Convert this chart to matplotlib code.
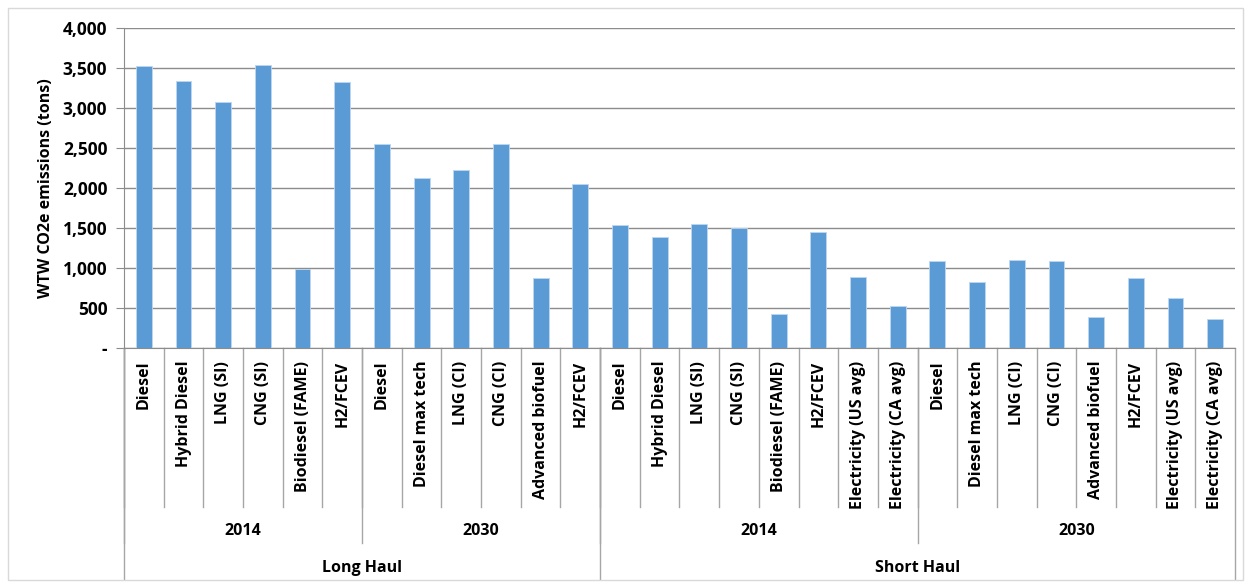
import matplotlib
matplotlib.use("Agg")
import matplotlib.pyplot as plt
import matplotlib.transforms as mtransforms
from matplotlib.patches import Rectangle
from matplotlib.ticker import FuncFormatter

plt.rcParams['font.family'] = ['Open Sans', 'DejaVu Sans']
plt.rcParams['font.weight'] = 'bold'

# data, grouped haul -> year -> fuel
hauls = ["Long Haul", "Short Haul"]
years = ["2014", "2030"]

lh_2014_labels = ["Diesel", "Hybrid Diesel", "LNG (SI)", "CNG (SI)", "Biodiesel (FAME)", "H2/FCEV"]
lh_2014_values = [3525, 3340, 3075, 3533, 988, 3325]
lh_2030_labels = ["Diesel", "Diesel max tech", "LNG (CI)", "CNG (CI)", "Advanced biofuel", "H2/FCEV"]
lh_2030_values = [2546, 2121, 2221, 2550, 871, 2054]
sh_2014_labels = ["Diesel", "Hybrid Diesel", "LNG (SI)", "CNG (SI)", "Biodiesel (FAME)", "H2/FCEV",
                  "Electricity (US avg)", "Electricity (CA avg)"]
sh_2014_values = [1541, 1384, 1546, 1500, 429, 1450, 891, 525]
sh_2030_labels = ["Diesel", "Diesel max tech", "LNG (CI)", "CNG (CI)", "Advanced biofuel", "H2/FCEV",
                  "Electricity (US avg)", "Electricity (CA avg)"]
sh_2030_values = [1088, 821, 1096, 1088, 388, 875, 621, 366]

groups = [[(lh_2014_labels, lh_2014_values), (lh_2030_labels, lh_2030_values)],
          [(sh_2014_labels, sh_2014_values), (sh_2030_labels, sh_2030_values)]]

BAR = "#5B9BD5"
GRID = "#8C8C8C"
FS = 11.5

fig = plt.figure(figsize=(12.5, 5.84), dpi=100)
fig.patches.append(Rectangle((0.006, 0.007), 0.988, 0.98, transform=fig.transFigure,
                             fill=False, edgecolor="#D9D9D9", lw=1))
ax = fig.add_axes([0.0992, 0.4041, 0.8888, 0.5479])

labels, values = [], []
for haul in groups:
    for lab, val in haul:
        labels += lab
        values += val
n = len(values)
xs = [i + 0.5 for i in range(n)]
ax.bar(xs, values, width=0.4, color=BAR, edgecolor="#BDD7EE", linewidth=0.6, zorder=3)

ax.set_xlim(0, n)
ax.set_ylim(0, 4000)
ax.set_yticks(range(0, 4001, 500))
ax.yaxis.set_major_formatter(FuncFormatter(lambda v, p: "-" if v == 0 else f"{int(v):,}"))
ax.grid(axis="y", color=GRID, lw=1, zorder=0)
ax.set_xticks([])
for s in ["top", "right"]:
    ax.spines[s].set_visible(False)
ax.spines["left"].set_color(GRID)
ax.spines["bottom"].set_color(GRID)
ax.tick_params(axis="y", length=6, color=GRID, labelsize=12.5, pad=6)
for t in ax.get_yticklabels():
    t.set_fontweight("bold")
ax.set_ylabel("WTW CO2e emissions (tons)", fontsize=FS, fontweight="bold", labelpad=6)

trans = mtransforms.blended_transform_factory(ax.transData, ax.transAxes)
lk = dict(color="#A6A6A6", lw=1, transform=trans, clip_on=False)

# category labels and separators
for i, lab in enumerate(labels):
    ax.text(i + 0.5, -0.04, lab, rotation=90, ha="center", va="top", fontsize=FS,
            fontweight="bold", transform=trans)
    ax.plot([i, i], [0, -0.497], **lk)

pos = 0
for h, haul in enumerate(groups):
    start = pos
    for y, (lab, val) in enumerate(haul):
        ax.text(pos + len(val) / 2, -0.572, years[y], ha="center", va="center",
                fontsize=FS, fontweight="bold", transform=trans)
        ax.plot([pos, pos], [0, -0.609], **lk)
        pos += len(val)
    ax.text((start + pos) / 2, -0.6875, hauls[h], ha="center", va="center",
            fontsize=FS, fontweight="bold", transform=trans)
    ax.plot([start, start], [0, -0.722], **lk)
ax.plot([pos, pos], [0, -0.722], **lk)

fig.savefig("out.png", dpi=100)
